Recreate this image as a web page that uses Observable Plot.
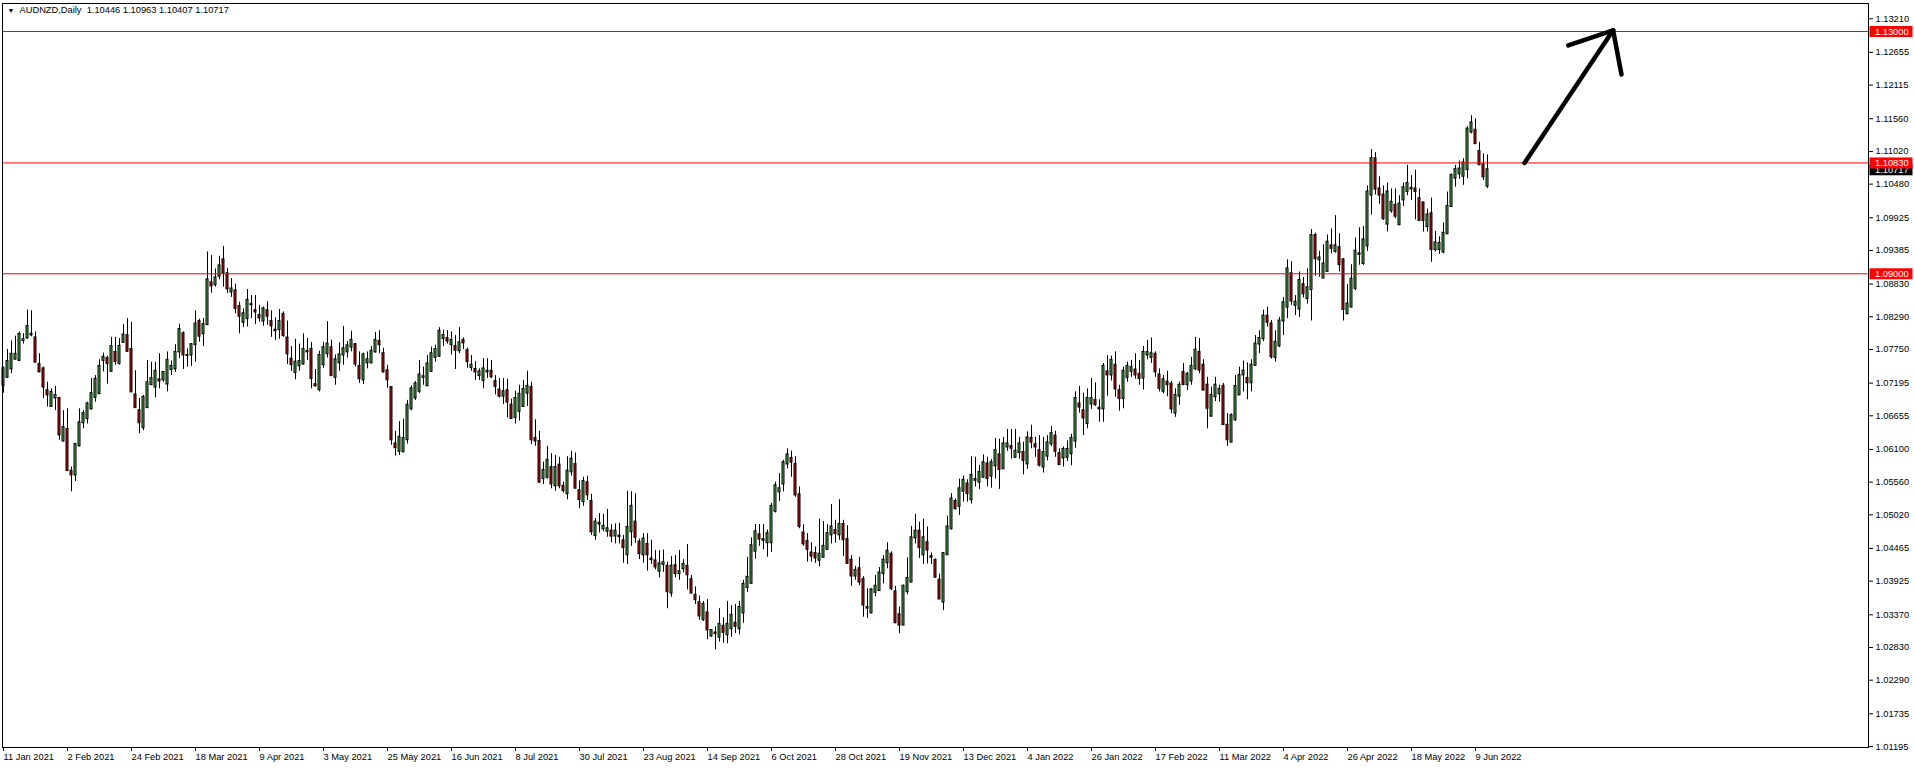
<!DOCTYPE html>
<html><head><meta charset="utf-8">
<script src="https://cdn.jsdelivr.net/npm/d3@7"></script>
<script src="https://cdn.jsdelivr.net/npm/@observablehq/plot@0.6"></script>
<style>
html,body{margin:0;padding:0;background:#fff;}
#chart{width:1914px;height:769px;overflow:hidden;}
</style></head><body><div id="chart"></div>
<script>
// AUDNZD daily candles, 11 Jan 2021 .. 14 Jun 2022 (index 0..371)
const open = [
1.0716,1.0729,1.0743,1.0759,1.0757,1.0790,1.0794,1.0799,1.0794,1.0750,
1.0743,1.0707,1.0681,1.0695,1.0694,1.0624,1.0643,1.0574,1.0568,1.0616,
1.0654,1.0661,1.0677,1.0696,1.0702,1.0757,1.0760,1.0739,1.0770,1.0752,
1.0787,1.0798,1.0775,1.0700,1.0674,1.0646,1.0679,1.0717,1.0713,1.0725,
1.0725,1.0718,1.0742,1.0743,1.0771,1.0801,1.0765,1.0766,1.0783,1.0821,
1.0801,1.0816,1.0885,1.0882,1.0896,1.0923,1.0900,1.0870,1.0872,1.0846,
1.0820,1.0826,1.0849,1.0839,1.0831,1.0822,1.0839,1.0821,1.0807,1.0808,
1.0833,1.0794,1.0759,1.0737,1.0748,1.0751,1.0772,1.0775,1.0717,1.0709,
1.0750,1.0768,1.0778,1.0729,1.0753,1.0766,1.0771,1.0779,1.0783,1.0747,
1.0725,1.0753,1.0753,1.0771,1.0788,1.0768,1.0740,1.0712,1.0619,1.0607,
1.0606,1.0626,1.0677,1.0695,1.0706,1.0729,1.0715,1.0739,1.0762,1.0764,
1.0793,1.0793,1.0783,1.0780,1.0773,1.0790,1.0773,1.0745,1.0742,1.0732,
1.0724,1.0739,1.0739,1.0722,1.0708,1.0698,1.0707,1.0683,1.0663,1.0673,
1.0681,1.0703,1.0712,1.0628,1.0623,1.0562,1.0564,1.0580,1.0550,1.0584,
1.0549,1.0537,1.0573,1.0585,1.0542,1.0524,1.0555,1.0524,1.0468,1.0487,
1.0479,1.0475,1.0475,1.0467,1.0467,1.0459,1.0436,1.0474,1.0490,1.0457,
1.0436,1.0453,1.0429,1.0426,1.0409,1.0420,1.0417,1.0373,1.0418,1.0405,
1.0413,1.0417,1.0395,1.0369,1.0357,1.0329,1.0340,1.0302,1.0307,1.0300,
1.0318,1.0304,1.0314,1.0323,1.0314,1.0340,1.0382,1.0389,1.0442,1.0469,
1.0461,1.0456,1.0456,1.0508,1.0540,1.0553,1.0586,1.0595,1.0585,1.0535,
1.0472,1.0458,1.0439,1.0438,1.0427,1.0432,1.0445,1.0469,1.0476,1.0469,
1.0486,1.0461,1.0427,1.0401,1.0413,1.0395,1.0349,1.0340,1.0374,1.0377,
1.0405,1.0423,1.0437,1.0375,1.0337,1.0320,1.0375,1.0391,1.0464,1.0475,
1.0436,1.0456,1.0433,1.0427,1.0394,1.0358,1.0436,1.0479,1.0524,1.0516,
1.0541,1.0553,1.0527,1.0560,1.0556,1.0564,1.0586,1.0566,1.0583,1.0601,
1.0578,1.0614,1.0615,1.0597,1.0605,1.0605,1.0586,1.0628,1.0618,1.0608,
1.0581,1.0599,1.0619,1.0632,1.0603,1.0596,1.0597,1.0603,1.0624,1.0685,
1.0674,1.0653,1.0685,1.0691,1.0678,1.0677,1.0738,1.0733,1.0749,1.0707,
1.0694,1.0729,1.0739,1.0741,1.0734,1.0728,1.0766,1.0762,1.0767,1.0733,
1.0706,1.0721,1.0718,1.0670,1.0698,1.0737,1.0717,1.0723,1.0743,1.0770,
1.0749,1.0716,1.0665,1.0697,1.0702,1.0714,1.0650,1.0622,1.0659,1.0700,
1.0733,1.0727,1.0720,1.0749,1.0784,1.0793,1.0830,1.0817,1.0762,1.0781,
1.0822,1.0845,1.0900,1.0848,1.0842,1.0882,1.0859,1.0874,1.0963,1.0923,
1.0893,1.0904,1.0946,1.0937,1.0943,1.0923,1.0834,1.0845,1.0876,1.0933,
1.0917,1.0946,1.1030,1.1090,1.1040,1.1030,1.0982,1.1004,1.1013,1.0981,
1.1022,1.1036,1.1040,1.1040,1.1024,1.1017,1.0978,1.0999,1.0940,1.0940,
1.0936,1.0966,1.1011,1.1058,1.1065,1.1061,1.1072,1.1134,1.1137,1.1102,
1.1080,1.10446];
const high = [
1.0746,1.0775,1.0789,1.0797,1.0804,1.0801,1.0840,1.0839,1.0804,1.0768,
1.0746,1.0721,1.0710,1.0714,1.0696,1.0674,1.0677,1.0581,1.0620,1.0677,
1.0674,1.0688,1.0727,1.0732,1.0758,1.0769,1.0764,1.0795,1.0795,1.0793,
1.0816,1.0826,1.0820,1.0740,1.0694,1.0699,1.0757,1.0754,1.0754,1.0768,
1.0738,1.0771,1.0756,1.0783,1.0817,1.0804,1.0776,1.0785,1.0839,1.0825,
1.0826,1.0936,1.0930,1.0908,1.0929,1.0945,1.0909,1.0892,1.0883,1.0853,
1.0842,1.0874,1.0864,1.0864,1.0848,1.0845,1.0854,1.0839,1.0827,1.0841,
1.0837,1.0822,1.0780,1.0792,1.0784,1.0801,1.0793,1.0787,1.0742,1.0772,
1.0787,1.0821,1.0790,1.0766,1.0786,1.0813,1.0788,1.0805,1.0784,1.0771,
1.0769,1.0771,1.0780,1.0803,1.0806,1.0777,1.0749,1.0713,1.0640,1.0656,
1.0660,1.0691,1.0715,1.0722,1.0757,1.0746,1.0765,1.0779,1.0782,1.0811,
1.0807,1.0806,1.0804,1.0798,1.0811,1.0794,1.0777,1.0765,1.0755,1.0743,
1.0760,1.0760,1.0757,1.0732,1.0727,1.0727,1.0726,1.0693,1.0706,1.0716,
1.0724,1.0739,1.0721,1.0659,1.0640,1.0589,1.0615,1.0603,1.0600,1.0597,
1.0556,1.0598,1.0607,1.0604,1.0558,1.0564,1.0566,1.0536,1.0496,1.0504,
1.0503,1.0511,1.0486,1.0487,1.0488,1.0468,1.0541,1.0540,1.0537,1.0462,
1.0471,1.0471,1.0460,1.0443,1.0443,1.0444,1.0424,1.0433,1.0435,1.0443,
1.0428,1.0453,1.0402,1.0383,1.0368,1.0359,1.0362,1.0312,1.0317,1.0347,
1.0332,1.0359,1.0352,1.0354,1.0359,1.0394,1.0432,1.0464,1.0486,1.0486,
1.0486,1.0477,1.0521,1.0556,1.0570,1.0592,1.0611,1.0607,1.0598,1.0548,
1.0486,1.0471,1.0456,1.0449,1.0495,1.0491,1.0486,1.0519,1.0493,1.0527,
1.0493,1.0484,1.0435,1.0417,1.0432,1.0400,1.0380,1.0380,1.0402,1.0415,
1.0435,1.0456,1.0441,1.0384,1.0350,1.0386,1.0431,1.0483,1.0503,1.0490,
1.0495,1.0482,1.0439,1.0429,1.0404,1.0440,1.0500,1.0537,1.0528,1.0561,
1.0566,1.0560,1.0598,1.0597,1.0584,1.0601,1.0597,1.0593,1.0628,1.0627,
1.0630,1.0643,1.0643,1.0643,1.0630,1.0622,1.0639,1.0650,1.0630,1.0633,
1.0630,1.0633,1.0648,1.0640,1.0611,1.0614,1.0624,1.0635,1.0705,1.0714,
1.0703,1.0710,1.0727,1.0720,1.0692,1.0752,1.0765,1.0764,1.0771,1.0716,
1.0746,1.0754,1.0757,1.0768,1.0757,1.0780,1.0790,1.0794,1.0771,1.0743,
1.0732,1.0739,1.0722,1.0710,1.0721,1.0752,1.0737,1.0762,1.0795,1.0793,
1.0758,1.0729,1.0713,1.0729,1.0716,1.0719,1.0669,1.0669,1.0732,1.0746,
1.0756,1.0753,1.0758,1.0798,1.0806,1.0840,1.0845,1.0823,1.0806,1.0828,
1.0861,1.0923,1.0920,1.0864,1.0903,1.0894,1.0908,1.0973,1.0967,1.0937,
1.0948,1.0964,1.0974,1.0996,1.0966,1.0925,1.0882,1.0915,1.0959,1.0976,
1.0978,1.1045,1.1105,1.1100,1.1060,1.1045,1.1050,1.1040,1.1040,1.1029,
1.1050,1.1079,1.1062,1.1071,1.1040,1.1018,1.1007,1.1025,1.0970,1.0961,
1.0984,1.1035,1.1065,1.1079,1.1086,1.1090,1.1143,1.1161,1.1156,1.1117,
1.1098,1.10963];
const low = [
1.0703,1.0728,1.0735,1.0758,1.0755,1.0784,1.0792,1.0796,1.0754,1.0738,
1.0694,1.0680,1.0680,1.0674,1.0625,1.0622,1.0575,1.0540,1.0557,1.0614,
1.0644,1.0652,1.0675,1.0688,1.0701,1.0738,1.0718,1.0738,1.0749,1.0749,
1.0785,1.0771,1.0705,1.0679,1.0636,1.0641,1.0679,1.0716,1.0695,1.0710,
1.0721,1.0705,1.0732,1.0737,1.0760,1.0742,1.0746,1.0747,1.0754,1.0787,
1.0780,1.0815,1.0868,1.0878,1.0890,1.0878,1.0867,1.0861,1.0834,1.0801,
1.0811,1.0812,1.0826,1.0816,1.0820,1.0813,1.0815,1.0795,1.0790,1.0792,
1.0795,1.0750,1.0739,1.0725,1.0739,1.0749,1.0757,1.0710,1.0713,1.0705,
1.0744,1.0761,1.0730,1.0716,1.0739,1.0749,1.0761,1.0771,1.0746,1.0719,
1.0717,1.0743,1.0751,1.0769,1.0768,1.0736,1.0711,1.0617,1.0599,1.0600,
1.0606,1.0619,1.0674,1.0691,1.0702,1.0716,1.0715,1.0737,1.0754,1.0762,
1.0780,1.0784,1.0766,1.0742,1.0768,1.0775,1.0744,1.0739,1.0724,1.0724,
1.0710,1.0727,1.0727,1.0700,1.0695,1.0684,1.0662,1.0661,1.0652,1.0657,
1.0681,1.0681,1.0618,1.0615,1.0554,1.0552,1.0561,1.0545,1.0541,1.0545,
1.0538,1.0527,1.0566,1.0545,1.0512,1.0516,1.0526,1.0468,1.0460,1.0472,
1.0474,1.0465,1.0456,1.0454,1.0454,1.0422,1.0420,1.0450,1.0455,1.0428,
1.0422,1.0409,1.0420,1.0411,1.0398,1.0407,1.0347,1.0366,1.0398,1.0394,
1.0406,1.0378,1.0371,1.0354,1.0328,1.0326,1.0296,1.0300,1.0279,1.0292,
1.0290,1.0289,1.0300,1.0306,1.0304,1.0323,1.0374,1.0388,1.0429,1.0450,
1.0444,1.0432,1.0440,1.0505,1.0524,1.0540,1.0578,1.0564,1.0531,1.0479,
1.0450,1.0424,1.0424,1.0422,1.0416,1.0431,1.0443,1.0454,1.0455,1.0460,
1.0433,1.0421,1.0384,1.0394,1.0385,1.0333,1.0331,1.0340,1.0367,1.0376,
1.0388,1.0413,1.0377,1.0322,1.0306,1.0320,1.0370,1.0391,1.0454,1.0430,
1.0420,1.0421,1.0420,1.0399,1.0363,1.0344,1.0436,1.0477,1.0510,1.0501,
1.0523,1.0523,1.0520,1.0548,1.0544,1.0563,1.0548,1.0546,1.0561,1.0544,
1.0577,1.0607,1.0594,1.0595,1.0594,1.0568,1.0577,1.0611,1.0597,1.0581,
1.0571,1.0591,1.0615,1.0597,1.0584,1.0581,1.0590,1.0583,1.0612,1.0670,
1.0633,1.0644,1.0676,1.0681,1.0655,1.0655,1.0698,1.0723,1.0696,1.0673,
1.0677,1.0721,1.0729,1.0726,1.0716,1.0708,1.0758,1.0752,1.0729,1.0705,
1.0702,1.0697,1.0669,1.0663,1.0683,1.0716,1.0707,1.0716,1.0740,1.0735,
1.0707,1.0644,1.0663,1.0689,1.0688,1.0650,1.0615,1.0622,1.0656,1.0699,
1.0705,1.0692,1.0705,1.0747,1.0768,1.0788,1.0812,1.0759,1.0754,1.0778,
1.0798,1.0826,1.0848,1.0831,1.0828,1.0860,1.0850,1.0822,1.0896,1.0894,
1.0892,1.0903,1.0933,1.0934,1.0903,1.0822,1.0833,1.0844,1.0872,1.0914,
1.0914,1.0937,1.0997,1.1030,1.1015,1.0988,1.0969,1.1000,1.0991,1.0980,
1.1011,1.1029,1.1021,1.0989,1.0987,1.0969,1.0969,1.0919,1.0936,1.0932,
1.0933,1.0966,1.1010,1.1043,1.1056,1.1046,1.1057,1.1131,1.1113,1.1079,
1.1054,1.10407];
const close = [
1.0743,1.0755,1.0767,1.0767,1.0800,1.0791,1.0813,1.0800,1.0754,1.0738,
1.0713,1.0700,1.0704,1.0699,1.0634,1.0646,1.0575,1.0568,1.0618,1.0654,
1.0669,1.0685,1.0702,1.0726,1.0747,1.0762,1.0752,1.0780,1.0755,1.0780,
1.0799,1.0772,1.0705,1.0679,1.0654,1.0696,1.0720,1.0727,1.0739,1.0723,
1.0737,1.0757,1.0747,1.0770,1.0808,1.0766,1.0765,1.0783,1.0817,1.0797,
1.0816,1.0890,1.0880,1.0893,1.0913,1.0901,1.0875,1.0875,1.0843,1.0830,
1.0834,1.0856,1.0849,1.0837,1.0827,1.0842,1.0830,1.0814,1.0806,1.0821,
1.0798,1.0768,1.0750,1.0754,1.0755,1.0775,1.0771,1.0727,1.0715,1.0765,
1.0778,1.0784,1.0732,1.0758,1.0766,1.0776,1.0781,1.0790,1.0751,1.0727,
1.0766,1.0758,1.0772,1.0790,1.0783,1.0738,1.0725,1.0626,1.0613,1.0630,
1.0628,1.0683,1.0710,1.0718,1.0733,1.0730,1.0751,1.0768,1.0775,1.0805,
1.0798,1.0789,1.0790,1.0774,1.0786,1.0786,1.0755,1.0749,1.0738,1.0738,
1.0743,1.0738,1.0730,1.0714,1.0698,1.0705,1.0688,1.0661,1.0694,1.0701,
1.0709,1.0714,1.0626,1.0624,1.0556,1.0575,1.0592,1.0553,1.0580,1.0550,
1.0542,1.0574,1.0594,1.0546,1.0527,1.0557,1.0535,1.0474,1.0490,1.0488,
1.0483,1.0479,1.0467,1.0475,1.0466,1.0448,1.0481,1.0516,1.0465,1.0438,
1.0462,1.0436,1.0428,1.0416,1.0421,1.0423,1.0375,1.0417,1.0405,1.0408,
1.0420,1.0403,1.0373,1.0362,1.0335,1.0354,1.0312,1.0311,1.0306,1.0321,
1.0308,1.0321,1.0336,1.0318,1.0349,1.0387,1.0399,1.0451,1.0474,1.0462,
1.0460,1.0471,1.0516,1.0550,1.0545,1.0588,1.0601,1.0589,1.0535,1.0483,
1.0454,1.0445,1.0434,1.0431,1.0437,1.0450,1.0471,1.0482,1.0471,1.0486,
1.0461,1.0422,1.0401,1.0410,1.0391,1.0353,1.0348,1.0378,1.0384,1.0406,
1.0427,1.0442,1.0380,1.0324,1.0320,1.0384,1.0397,1.0464,1.0475,1.0448,
1.0464,1.0444,1.0432,1.0399,1.0363,1.0438,1.0482,1.0528,1.0512,1.0545,
1.0559,1.0537,1.0567,1.0559,1.0572,1.0588,1.0562,1.0588,1.0608,1.0577,
1.0619,1.0619,1.0612,1.0607,1.0619,1.0592,1.0629,1.0622,1.0614,1.0584,
1.0605,1.0621,1.0636,1.0607,1.0585,1.0610,1.0610,1.0628,1.0694,1.0680,
1.0662,1.0694,1.0694,1.0684,1.0677,1.0747,1.0733,1.0757,1.0710,1.0694,
1.0739,1.0747,1.0745,1.0733,1.0727,1.0770,1.0770,1.0768,1.0738,1.0711,
1.0725,1.0717,1.0677,1.0699,1.0716,1.0717,1.0734,1.0747,1.0774,1.0741,
1.0708,1.0678,1.0699,1.0716,1.0709,1.0651,1.0626,1.0666,1.0714,1.0732,
1.0739,1.0720,1.0749,1.0784,1.0793,1.0830,1.0820,1.0763,1.0787,1.0822,
1.0852,1.0908,1.0855,1.0853,1.0889,1.0867,1.0877,1.0963,1.0925,1.0926,
1.0916,1.0952,1.0942,1.0946,1.0915,1.0841,1.0850,1.0891,1.0937,1.0932,
1.0956,1.1035,1.1090,1.1040,1.1030,1.0991,1.1035,1.1018,1.0995,1.1015,
1.1042,1.1049,1.1041,1.1036,1.0988,1.0988,1.0997,1.0940,1.0951,1.0950,
1.0967,1.1011,1.1062,1.1072,1.1073,1.1083,1.1139,1.1149,1.1115,1.1080,
1.1060,1.10717];

const dateLabels = ["11 Jan 2021","2 Feb 2021","24 Feb 2021","18 Mar 2021","9 Apr 2021","3 May 2021",
  "25 May 2021","16 Jun 2021","8 Jul 2021","30 Jul 2021","23 Aug 2021","14 Sep 2021","6 Oct 2021",
  "28 Oct 2021","19 Nov 2021","13 Dec 2021","4 Jan 2022","26 Jan 2022","17 Feb 2022","11 Mar 2022",
  "4 Apr 2022","26 Apr 2022","18 May 2022","9 Jun 2022"];
const dateLabelIndex = [0,16,32,48,64,80,96,112,128,144,160,176,192,208,224,240,256,272,288,304,320,336,352,368];
const priceTicks = [1.13210,1.12655,1.12115,1.11560,1.11020,1.10480,1.09925,1.09385,1.08830,1.08290,
  1.07750,1.07195,1.06655,1.06100,1.05560,1.05020,1.04465,1.03925,1.03370,1.02830,1.02290,1.01735,1.01195];
const levels = [1.13000, 1.10830, 1.09000];
const symbolName = "AUDNZD,Daily";
const lastBar = {o: 1.10446, h: 1.10963, l: 1.10407, c: 1.10717};
// hand-drawn arrow (bar index, price)
const arrowX1 = [380.25, 402.4, 402.4];
const arrowY1 = [1.1083, 1.1302, 1.1302];
const arrowX2 = [402.4, 391.2, 404.5];
const arrowY2 = [1.1302, 1.1277, 1.1229];

const GREEN = "#3cb43c", RED = "#e00000";
const candles = open.map((o, i) => ({i, o, h: high[i], l: low[i], c: close[i], up: close[i] >= o}));
const arrows = arrowX1.map((x, k) => ({x1: x, y1: arrowY1[k], x2: arrowX2[k], y2: arrowY2[k]}));
const FONT = "'Liberation Sans', Arial, sans-serif";
const FS = 9.3;

const plot = Plot.plot({
  width: 1914, height: 769,
  marginLeft: 2, marginRight: 46, marginTop: 3, marginBottom: 22,
  x: {domain: [-0.25, 466.25], axis: null},
  y: {domain: [1.011788, 1.134623], axis: null},
  style: {fontFamily: FONT, fontSize: FS + "px", background: "#fff", color: "#000"},
  marks: [
    Plot.ruleX(candles, {x: "i", y1: "l", y2: "h", stroke: "#000", strokeWidth: 1}),
    Plot.rect(candles, {x1: d => d.i - 0.25, x2: d => d.i + 0.25, y1: "o", y2: "c",
      fill: d => d.up ? GREEN : RED, stroke: "#000", strokeWidth: 1, inset: 0, insetTop: -0.5, insetBottom: -0.5}),
    Plot.ruleY(levels, {stroke: "#ff0000", strokeWidth: 1}),
    Plot.link(arrows, {x1: "x1", y1: "y1", x2: "x2", y2: "y2", stroke: "#000", strokeWidth: 4.5, strokeLinecap: "round"}),
    Plot.frame({stroke: "#000"}),
    Plot.axisY({anchor: "right", ticks: priceTicks, tickFormat: d => d.toFixed(5), tickSize: 4, tickPadding: 3, label: null, fontSize: FS}),
    Plot.axisX({anchor: "bottom", ticks: dateLabelIndex, tickFormat: i => dateLabels[dateLabelIndex.indexOf(i)],
      tickSize: 4, tickPadding: 2, textAnchor: "start", label: null, fontSize: FS}),
    Plot.text(["\u25BC"], {frameAnchor: "top-left", dx: 5, dy: 7, fontSize: 7, lineAnchor: "middle", textAnchor: "start"}),
    Plot.text([`${symbolName}  ${lastBar.o.toFixed(5)} ${lastBar.h.toFixed(5)} ${lastBar.l.toFixed(5)} ${lastBar.c.toFixed(5)}`],
      {frameAnchor: "top-left", dx: 17, dy: 7, fontSize: FS, lineAnchor: "middle", textAnchor: "start"})
  ]
});
document.getElementById("chart").appendChild(plot);

// price boxes on the right axis (positions from the plot's own scales)
const ys = plot.scale("y");
const xr = plot.scale("x").range;
const svg = d3.select(plot);
const boxes = [{v: lastBar.c, fill: "#000"}].concat(levels.map(v => ({v, fill: "#ff0000"})));
for (const b of boxes) {
  const y = ys.apply(b.v);
  svg.append("rect").attr("x", xr[1] + 1.5).attr("y", y - 5).attr("width", 43).attr("height", 11).attr("fill", b.fill);
  svg.append("text").attr("x", xr[1] + 7).attr("y", y + 0.5).attr("dy", "0.35em").attr("text-anchor", "start")
    .attr("fill", "#fff").attr("font-family", FONT).attr("font-size", FS).text(b.v.toFixed(5));
}
</script></body></html>
